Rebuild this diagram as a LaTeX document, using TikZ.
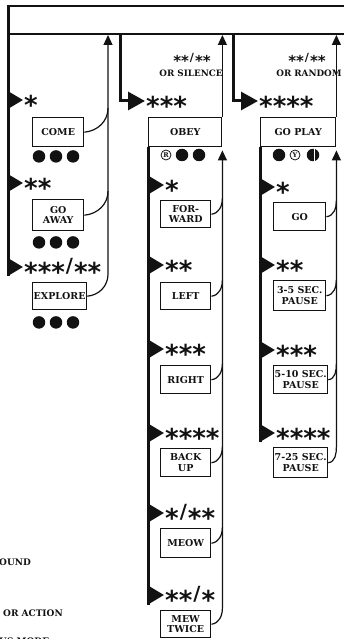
\documentclass[tikz,border=0pt]{standalone}
\usepackage{fontspec}
\usepackage{graphicx}
\setmainfont{DejaVu Serif}
\newfontfamily\starfont{DejaVu Sans}
\usetikzlibrary{positioning,arrows.meta,calc}
\definecolor{Ink}{RGB}{18,18,18}
% stars sit on the middle of the line, the slash is scaled down to match
\newcommand{\st}[1]{\raisebox{-.555em}[.2em][.2em]{#1}}
\newcommand{\sla}{\kern1pt\raisebox{-.22em}[.2em][.2em]{\scalebox{.75}{/}}\kern1pt}
\tikzset{
  bar/.style={draw=Ink,line width=2pt,inner sep=0pt},
  spine/.style={draw=Ink,line width=3pt},
  branch/.style={-{Triangle[length=17pt,width=18pt]},draw=Ink,line width=3pt},
  trig/.style={-{Triangle[length=15pt,width=17pt]},draw=Ink,line width=3pt},
  ret/.style={draw=Ink,line width=1.2pt},
  retarrow/.style={ret,-{Triangle[length=10pt,width=9pt]}},
  stars/.style={anchor=west,inner sep=1pt,text=Ink,
    font=\starfont\bfseries\fontsize{26}{26}\selectfont},
  smallstars/.style={inner sep=0pt,text=Ink,
    font=\starfont\bfseries\fontsize{15}{15}\selectfont},
  act/.style={draw=Ink,line width=1.4pt,anchor=north west,align=center,
    inner sep=1pt,minimum height=28pt,text=Ink,
    font=\bfseries\fontsize{9.5}{10.5}\selectfont},
  head/.style={act,minimum height=29pt},
  dot/.style={circle,fill=Ink,inner sep=0pt,minimum size=12.5pt},
  ring/.style={circle,draw=Ink,line width=0.8pt,inner sep=0pt,minimum size=10pt,
    text=Ink,font=\bfseries\fontsize{6.5}{6.5}\selectfont},
  note/.style={inner sep=0pt,text=Ink,font=\bfseries\fontsize{8.8}{8.8}\selectfont},
  legend/.style={anchor=west,inner sep=0pt,text=Ink,
    font=\bfseries\fontsize{9}{9}\selectfont}
}
\begin{document}
\begin{tikzpicture}[x=1pt,y=1pt]
  \useasboundingbox (0,0) rectangle (343,-639);

  % top bar and first column
  \node[bar,anchor=north west,minimum width=350pt,minimum height=28pt] (bar) at (8,-5) {};
  \coordinate (sp1e) at (8,-276);
  \draw[spine] (bar.north west) -- (sp1e);

  \node[stars] (t11) at (23,-100) {\st{*}};
  \node[stars] (t12) at (23,-183) {\st{**}};
  \node[stars] (t13) at (23,-267) {\st{***}\sla\st{**}};
  \foreach \t in {t11,t12,t13}
    \draw[trig] (bar.north west |- \t) -- (\t);

  \node[act,minimum width=51pt,minimum height=29pt] (come) at (32,-117) {COME};
  \node[act,minimum width=51pt,minimum height=31pt] (goaway) at (32,-199) {GO\\AWAY};
  \node[act,minimum width=51pt,minimum height=27pt] (explore) at (32,-282) {EXPLORE};
  \foreach \b/\dy in {come/9,goaway/11,explore/12}
    \foreach \i in {0,1,2}
      \node[dot] (\b d\i) at ($(\b.south west)+(7+17*\i,-\dy)$) {};

  \coordinate (ra1) at (108,-35);
  \draw[retarrow] (explore.east) to[out=5,in=-90] ($(explore.east -| ra1)+(0,22)$) -- (ra1);
  \foreach \b in {come,goaway}
    \draw[ret] (\b.east) to[out=5,in=-90] ($(\b.east -| ra1)+(0,24)$);

  % second column
  \coordinate (br2) at (120,-33);
  \node[stars] (t21) at (145,-101) {\st{***}};
  \draw[branch] (br2) |- (t21);
  \node[smallstars] (lab2s) at (192,-58) {\st{**}\sla\st{**}};
  \node[note] (lab2) at (191,-73) {OR SILENCE};

  \node[head,minimum width=73pt] (obey) at (148,-117) {OBEY};
  \coordinate (sp2e) at (148,-605);
  \draw[spine] (obey.south west) -- (sp2e);
  \draw[retarrow] (obey.north east) -- (obey.north east |- ra1);
  \node[ring] (reg) at (166,-155) {R};
  \node[dot] (obeyd1) at (182,-155) {};
  \node[dot] (obeyd2) at (199,-155) {};

  \node[stars] (t22) at (164,-185) {\st{*}};
  \node[stars] (t23) at (164,-265) {\st{**}};
  \node[stars] (t24) at (164,-349) {\st{***}};
  \node[stars] (t25) at (164,-433) {\st{****}};
  \node[stars] (t26) at (164,-513) {\st{*}\sla\st{**}};
  \node[stars] (t27) at (164,-595) {\st{**}\sla\st{*}};
  \foreach \t in {t22,t23,t24,t25,t26,t27}
    \draw[trig] (obey.west |- \t) -- (\t);

  \node[act,minimum width=50pt,minimum height=27pt] (fwd) at (160,-200) {FOR-\\WARD};
  \node[act,minimum width=50pt,minimum height=27pt] (lft) at (160,-282) {LEFT};
  \node[act,minimum width=50pt] (rgt) at (160,-365) {RIGHT};
  \node[act,minimum width=50pt] (bkup) at (160,-448) {BACK\\UP};
  \node[act,minimum width=50pt,minimum height=29pt] (meow) at (160,-528) {MEOW};
  \node[act,minimum width=50pt,minimum height=27pt] (mew) at (160,-610) {MEW\\TWICE};

  \coordinate (ri2) at ([yshift=-3pt]obey.south east);
  \draw[retarrow] (mew.east) to[out=5,in=-90] ($(mew.east -| ri2)+(0,16)$) -- (ri2);
  \foreach \b in {fwd,lft,rgt,bkup,meow}
    \draw[ret] (\b.east) to[out=5,in=-90] ($(\b.east -| ri2)+(0,16)$);

  % third column
  \coordinate (br3) at (233,-33);
  \node[stars] (t31) at (258,-101) {\st{****}};
  \draw[branch] (br3) |- (t31);
  \node[smallstars] (lab3s) at (307,-58) {\st{**}\sla\st{**}};
  \node[note] (lab3) at (309,-73) {OR RANDOM};

  \node[head,minimum width=75pt] (goplay) at (260,-117) {GO PLAY};
  \coordinate (sp3e) at (260,-442);
  \draw[spine] (goplay.south west) -- (sp3e);
  \draw[retarrow] (goplay.north east) -- (goplay.north east |- ra1);
  \node[dot] (gpd1) at (279,-155) {};
  \node[ring] (yes) at (295,-155) {Y};
  \node[dot] (gpd2) at (313,-155) {};
  \draw[white,line width=0.9pt] ([xshift=1.5pt]gpd2.north) -- ([xshift=1.5pt]gpd2.south);

  \node[stars] (t32) at (275,-187) {\st{*}};
  \node[stars] (t33) at (275,-265) {\st{**}};
  \node[stars] (t34) at (275,-350) {\st{***}};
  \node[stars] (t35) at (275,-433) {\st{****}};
  \foreach \t in {t32,t33,t34,t35}
    \draw[trig] (goplay.west |- \t) -- (\t);

  \node[act,minimum width=52pt] (go) at (273,-202) {GO};
  \node[act,minimum width=52pt,minimum height=30pt] (p35) at (273,-280) {3-5 SEC.\\PAUSE};
  \node[act,minimum width=52pt] (p510) at (273,-365) {5-10 SEC.\\PAUSE};
  \node[act,minimum width=52pt,minimum height=30pt] (p725) at (273,-447) {7-25 SEC.\\PAUSE};

  \coordinate (ri3) at ([yshift=-3pt]goplay.south east);
  \draw[retarrow] (p725.east) to[out=5,in=-90] ($(p725.east -| ri3)+(0,16)$) -- (ri3);
  \foreach \b in {go,p35,p510}
    \draw[ret] (\b.east) to[out=5,in=-90] ($(\b.east -| ri3)+(0,16)$);

  % key, cut off at the left edge
  \node[legend] (lg1) at (-1,-562) {OUND};
  \node[legend] (lg2) at (3,-613) {OR ACTION};
  \node[legend] (lg3) at (-1,-641) {US MODE};
\end{tikzpicture}
\end{document}
